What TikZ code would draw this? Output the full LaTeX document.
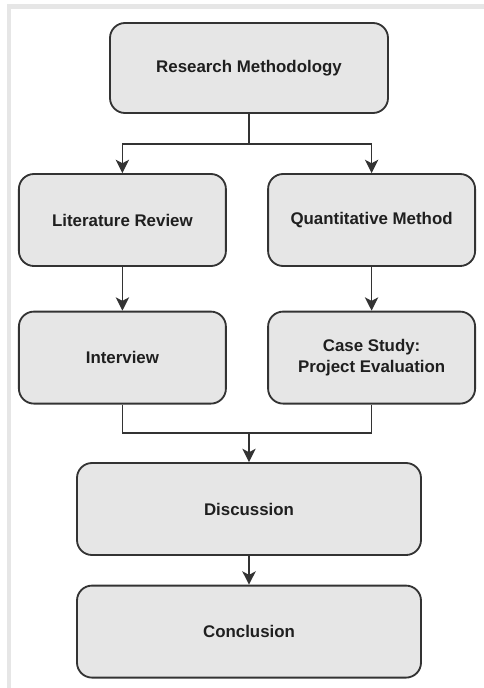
\documentclass[tikz,border=0pt]{standalone}
\usepackage{fontspec}
\setmainfont{Liberation Sans}
\usetikzlibrary{arrows.meta}
\definecolor{boxfill}{HTML}{E6E6E6}
\definecolor{boxline}{HTML}{333333}
\definecolor{framegray}{HTML}{E6E6E6}
\def\leftcol{3.06}
\def\rightcol{9.29}
\def\midcol{6.225}

\begin{document}
\begin{tikzpicture}[->,>={Stealth[length=9.5pt,width=9.5pt,inset=2.5pt]},draw=boxline,line width=1pt]
    \tikzstyle{stage}=[rectangle,rounded corners=0.375cm,draw=boxline,line width=1.3pt,fill=boxfill,
        text=black!88,font=\fontsize{12}{15}\selectfont\bfseries,align=center,inner sep=0pt]
    \tikzstyle{side stage}=[stage,minimum width=5.175cm,minimum height=2.3cm]
    \tikzstyle{wide stage}=[stage,minimum width=8.6cm,minimum height=2.3cm]

    % page frame and size
    \useasboundingbox (0,0) rectangle (12.1,-17.2);
    \draw[-,framegray,line width=3pt] (12.1,-0.16) -- (0.23,-0.16) -- (0.23,-17.2);

    % Draw the top node
    \node[stage,minimum width=6.95cm,minimum height=2.25cm] (RM) at (\midcol,-1.7) {Research Methodology};

    % Draw the two columns
    \node[side stage] (LR) at (\leftcol,-5.5) {Literature Review};
    \node[side stage] (QM) at (\rightcol,-5.5) {Quantitative Method};
    \node[side stage] (IV) at (\leftcol,-8.94) {Interview};
    \node[side stage] (CS) at (\rightcol,-8.94) {Case Study:\\Project Evaluation};

    % Draw the bottom nodes
    \node[wide stage] (DI) at (\midcol,-12.725) {Discussion};
    \node[wide stage] (CO) at (\midcol,-15.79) {Conclusion};

    % Split from the top node
    \coordinate (split) at (\midcol,-3.6);
    \draw[-] (RM) -- (split);
    \draw (split) -| (LR);
    \draw (split) -| (QM);

    % Down each column
    \draw (LR) -- (IV);
    \draw (QM) -- (CS);

    % Join the columns again
    \coordinate (join) at (\midcol,-10.825);
    \draw[-] (IV) |- (join);
    \draw[-] (CS) |- (join);
    \draw (join) -- (DI);
    \draw (DI) -- (CO);
\end{tikzpicture}
\end{document}
